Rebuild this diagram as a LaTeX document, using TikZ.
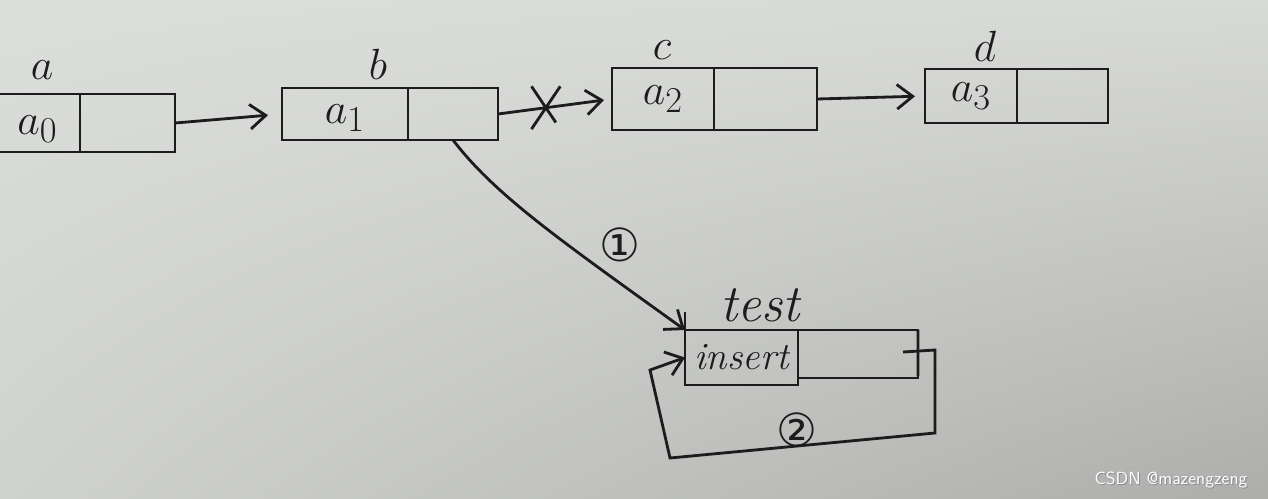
\documentclass[tikz,border=0pt]{standalone}
\usepackage{fontspec}
\newfontfamily\djv{DejaVu Sans}
\usetikzlibrary{arrows.meta,shapes.misc,shadings}
\definecolor{ink}{HTML}{1C1C1C}
\definecolor{bgUL}{HTML}{DCDEDB}
\definecolor{bgUR}{HTML}{D8DAD7}
\definecolor{bgLL}{HTML}{D0D2CF}
\definecolor{bgLR}{HTML}{ADAEAB}
\begin{document}
\begin{tikzpicture}[x=0.02cm,y=-0.02cm,
  line width=1.6pt, ink,
  cell/.style={draw=ink, line width=1.6pt, rectangle, inner sep=0pt, outer sep=0pt, anchor=north west},
  nextcell/.style={cell, anchor=north west},
  lbl/.style={font=\fontsize{36}{36}\selectfont\itshape, inner sep=0pt},
  val/.style={font=\fontsize{30}{30}\selectfont, inner sep=0pt},
  arr/.style={draw=ink, line width=1.6pt, -{Straight Barb[length=9pt,width=14pt,line width=1.6pt]}},
  circnum/.style={font=\djv\fontsize{26}{26}\selectfont, inner sep=0pt},
  wm/.style={font=\sffamily\fontsize{10}{10}\selectfont, text=white, inner sep=0pt}
]
\useasboundingbox (0,0) rectangle (1268,498);
\shade[upper left=bgUL, upper right=bgUR, lower left=bgLL, lower right=bgLR] (0,0) rectangle (1268,498);

% list node a
\node[cell, minimum width=85*0.02cm, minimum height=58*0.02cm] (aD) at (-5,94) {};
\node[nextcell, minimum width=95*0.02cm, minimum height=58*0.02cm] (aN) at (aD.north east) {};
\node[val] (aV) at ([yshift=-6*0.02cm]aD.center) {$a_0$};
\node[lbl] (aL) at (42,70) {$a$};

% list node b
\node[cell, minimum width=126*0.02cm, minimum height=52*0.02cm] (bD) at (282,88) {};
\node[nextcell, minimum width=90*0.02cm, minimum height=52*0.02cm] (bN) at (bD.north east) {};
\node[val] (bV) at ([yshift=-4*0.02cm]bD.center) {$a_1$};
\node[lbl] (bL) at (378,64) {$b$};

% list node c
\node[cell, minimum width=102*0.02cm, minimum height=62*0.02cm] (cD) at (612,68) {};
\node[nextcell, minimum width=103*0.02cm, minimum height=62*0.02cm] (cN) at (cD.north east) {};
\node[val] (cV) at (cD.center) {$a_2$};
\node[lbl] (cL) at (662,50) {$c$};

% list node d
\node[cell, minimum width=92*0.02cm, minimum height=54*0.02cm] (dD) at (925,69) {};
\node[nextcell, minimum width=91*0.02cm, minimum height=54*0.02cm] (dN) at (dD.north east) {};
\node[val] (dV) at (dD.center) {$a_3$};
\node[lbl] (dL) at (985,46) {$d$};

% inserted node test
\node[cell, minimum width=113*0.02cm, minimum height=55*0.02cm] (tD) at (685,330) {};
\node[nextcell, minimum width=120*0.02cm, minimum height=48*0.02cm] (tN) at (tD.north east) {};
\node[font=\fontsize{22}{22}\selectfont\itshape, inner sep=0pt] (tV) at (tD.center) {insert};
\node[lbl, font=\fontsize{30}{30}\selectfont\itshape] (tL) at (760,305) {test};

% connectors
\draw[arr, shorten >=14*0.02cm] (aN.east) -- (bD.west);
\draw[arr, shorten >=8*0.02cm] (bN.east) -- node[pos=0.42, cross out, draw=ink, line width=1.6pt, minimum width=26*0.02cm, minimum height=40*0.02cm, inner sep=0pt] (xmark) {} (cD.west);
\draw[arr, shorten >=10*0.02cm] (cN.east) -- (dD.west);

\draw[arr] (bN.south) .. controls (495,195) and (560,240) .. (tD.north west);
\node[circnum] (c1) at (620,245) {①};

% loop from test.next back to test
\coordinate (l0) at (903,352);
\coordinate (l1) at (935,350);
\coordinate (l2) at (935,433);
\coordinate (l3) at (670,458);
\coordinate (l4) at (650,370);
\draw[arr] (l0) -- (l1) -- (l2) -- (l3) -- (l4) -- (tD.west);
\node[circnum] (c2) at (797,430) {②};

% small tick marks of the sketch
\coordinate (tk) at (685,312);
\draw (tk) -- (tD.north west);
\coordinate (tr) at (918,376);
\draw (tN.north east) -- (tr);

% watermark
\node[wm, text=black!45, xshift=0.6pt, yshift=-0.6pt] (wmS) at (1171,480) {CSDN @mazengzeng};
\node[wm] (wmT) at (1171,480) {CSDN @mazengzeng};
\end{tikzpicture}
\end{document}
